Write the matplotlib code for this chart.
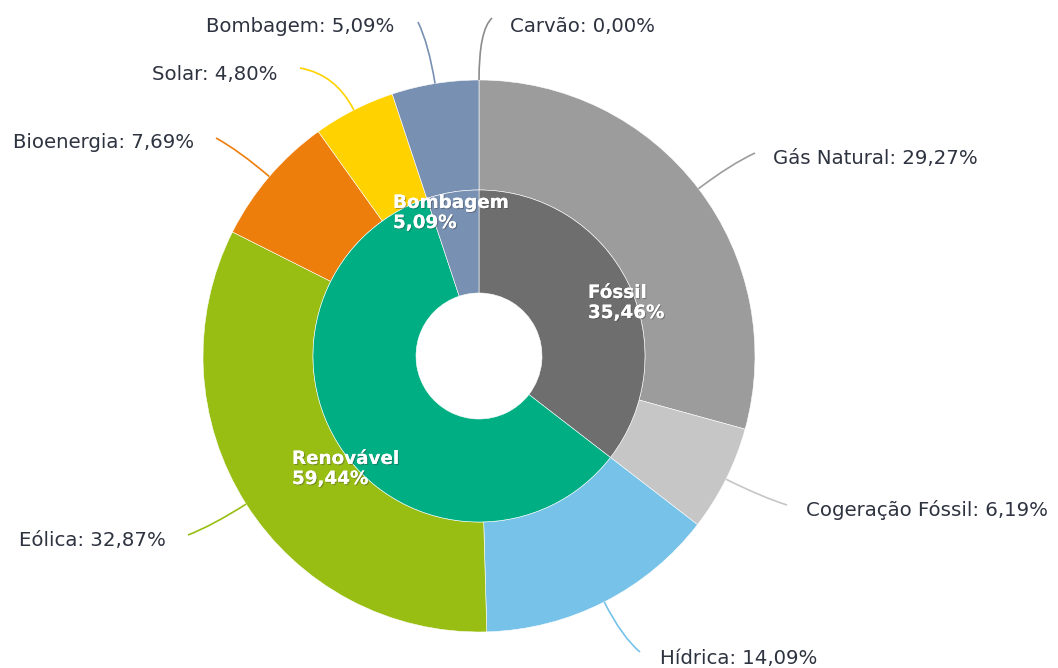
import matplotlib.pyplot as plt
import matplotlib.patheffects as pe
from matplotlib.path import Path
from matplotlib.patches import PathPatch
import numpy as np

# Data
outer_labels = ["Carvão", "Gás Natural", "Cogeração Fóssil", "Hídrica",
                "Eólica", "Bioenergia", "Solar", "Bombagem"]
outer_values = [0.00, 29.27, 6.19, 14.09, 32.87, 7.69, 4.80, 5.09]
outer_colors = ["#8c8c8c", "#9c9c9c", "#c6c6c6", "#76c2e8",
                "#98be14", "#ee7e0b", "#ffd200", "#7890b1"]

inner_labels = ["Fóssil", "Renovável", "Bombagem"]
inner_values = [35.46, 59.44, 5.09]
inner_colors = ["#6e6e6e", "#00ae84", "#7890b1"]

def fmt(v):
    return f"{v:.2f}".replace(".", ",") + "%"

# layout (pixel coords, y from top)
W, H = 1058, 668
cx, cy = 479, 356
r_out, r_mid, r_hole = 276, 166, 63
# leader end point, text anchor x, alignment
label_pos = {
    "Carvão": ((492, 18), 510, "left"),
    "Gás Natural": ((755, 153), 773, "left"),
    "Cogeração Fóssil": ((787, 505), 806, "left"),
    "Hídrica": ((640, 652), 660, "left"),
    "Eólica": ((188, 535), 166, "right"),
    "Bioenergia": ((216, 138), 194, "right"),
    "Solar": ((300, 68), 278, "right"),
    "Bombagem": ((418, 22), 394, "right"),
}
label_y = {"Carvão": 27, "Gás Natural": 158, "Cogeração Fóssil": 510,
           "Hídrica": 658, "Eólica": 540, "Bioenergia": 143,
           "Solar": 75, "Bombagem": 27}
inner_text_pos = {"Fóssil": (588, 303), "Renovável": (292, 469), "Bombagem": (393, 213)}

plt.rcParams['font.family'] = ['DejaVu Sans']

fig = plt.figure(figsize=(W / 100, H / 100), dpi=100)
ax = fig.add_axes([0, 0, 1, 1])
ax.set_xlim(0, W)
ax.set_ylim(0, H)
ax.set_aspect("equal")
ax.axis("off")

center = (cx, H - cy)
ax.pie(outer_values, colors=outer_colors, radius=r_out, center=center,
       startangle=90, counterclock=False,
       wedgeprops=dict(width=r_out - r_mid, edgecolor="white", linewidth=0.4))
ax.pie(inner_values, colors=inner_colors, radius=r_mid, center=center,
       startangle=90, counterclock=False,
       wedgeprops=dict(width=r_mid - r_hole, edgecolor="white", linewidth=0.4))
ax.set_xlim(0, W)
ax.set_ylim(0, H)

text_color = "#2e3340"
total = sum(outer_values)
acc = 0
for lab, val, col in zip(outer_labels, outer_values, outer_colors):
    mid = (acc + val / 2) / total * 2 * np.pi
    acc += val
    sx, sy = cx + r_out * np.sin(mid), cy - r_out * np.cos(mid)
    (ex, ey), tx, ha = label_pos[lab]
    # control point: extend radially, then bend toward label
    kx, ky = cx + (r_out + 40) * np.sin(mid), cy - (r_out + 40) * np.cos(mid)
    if lab == "Carvão":
        kx, ky = cx, 30
    verts = [(sx, H - sy), (kx, H - ky), (ex, H - ey)]
    path = Path(verts, [Path.MOVETO, Path.CURVE3, Path.CURVE3])
    ax.add_patch(PathPatch(path, facecolor="none", edgecolor=col, lw=1.2))
    ax.text(tx, H - label_y[lab], f"{lab}: {fmt(val)}", ha=ha, va="center",
            fontsize=14.2, color=text_color)

for lab, val in zip(inner_labels, inner_values):
    tx, ty = inner_text_pos[lab]
    ax.text(tx, H - ty, f"{lab}\n{fmt(val)}", ha="left", va="center",
            fontsize=13.2, fontweight="bold", color="white", linespacing=1.15,
            path_effects=[pe.withSimplePatchShadow(offset=(0.8, -0.8),
                                                   shadow_rgbFace="#333333",
                                                   alpha=0.35),
                          pe.Normal()])

fig.savefig("out.png", dpi=100)
